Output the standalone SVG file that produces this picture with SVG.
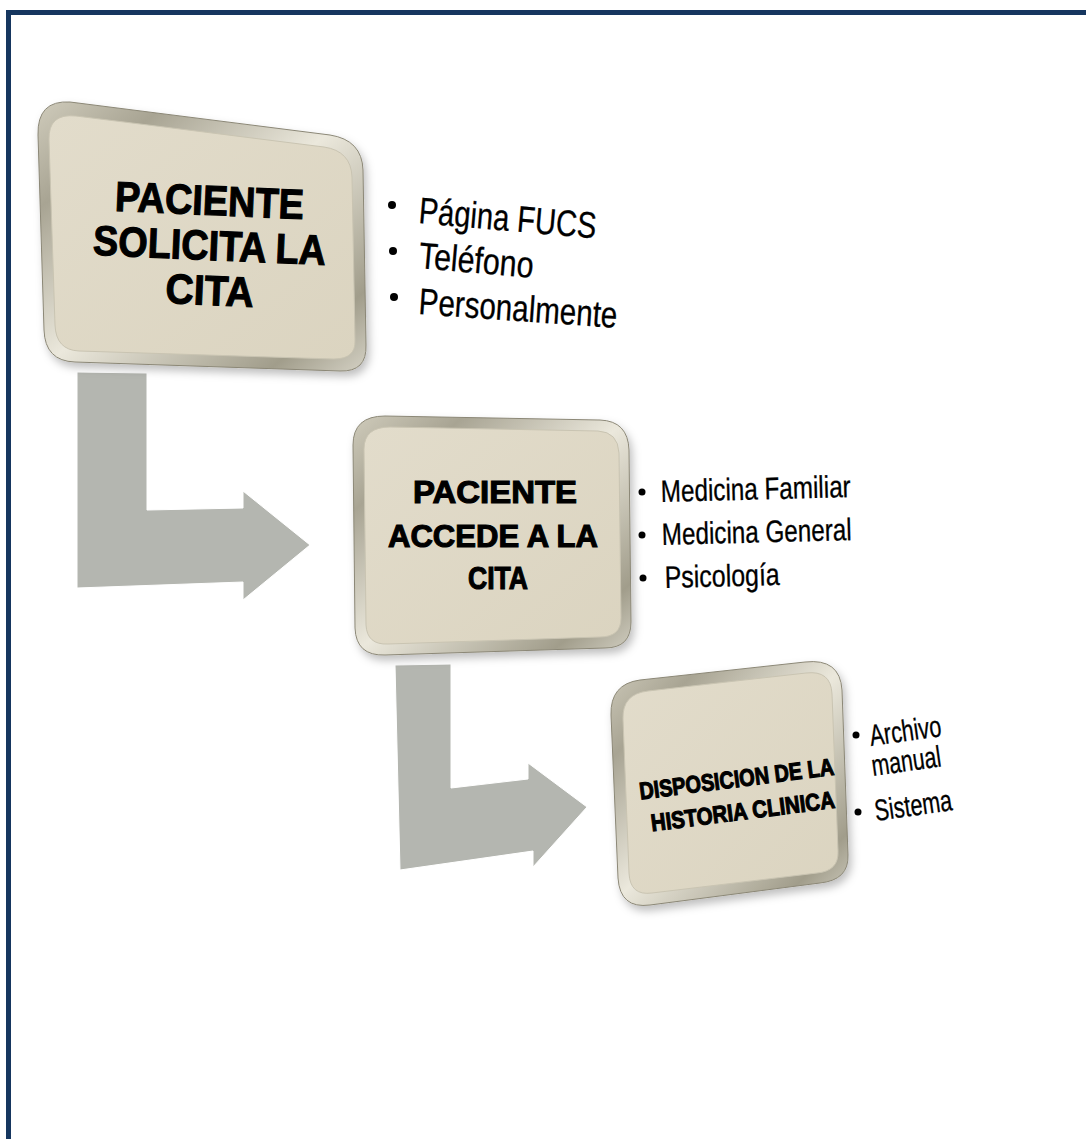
<svg xmlns="http://www.w3.org/2000/svg" width="1086" height="1139" viewBox="0 0 1086 1139">
<defs>
<linearGradient id="bevel" x1="0" y1="0" x2="1" y2="1">
<stop offset="0" stop-color="#cfcbbb"/>
<stop offset="0.2" stop-color="#a8a493"/>
<stop offset="0.5" stop-color="#ebe8dc"/>
<stop offset="0.85" stop-color="#a19d8b"/>
<stop offset="1" stop-color="#d4d1c4"/>
</linearGradient>
<linearGradient id="face" x1="0" y1="0" x2="1" y2="1">
<stop offset="0" stop-color="#e2dccb"/>
<stop offset="1" stop-color="#dbd4c0"/>
</linearGradient>
<filter id="sh" x="-10%" y="-10%" width="130%" height="130%">
<feDropShadow dx="3" dy="5" stdDeviation="4" flood-color="#000" flood-opacity="0.25"/>
</filter>
<style>
.frame{fill:none;stroke:#16365f;stroke-width:5}
.arrow{fill:#b4b6b0;stroke:#ffffff;stroke-width:1}
.outer{fill:url(#bevel);stroke:#8c8877;stroke-width:1;filter:url(#sh)}
.inner{fill:url(#face);stroke:#c9c4b2;stroke-width:1}
.title{font-family:"Liberation Sans",Arial,sans-serif;font-weight:bold;fill:#000;stroke:#000;stroke-width:1.1;text-anchor:middle}
.item{font-family:"Liberation Sans Narrow","Liberation Sans",Arial,sans-serif;fill:#000;stroke:#000;stroke-width:0.3}
</style>
</defs>
<rect width="1086" height="1139" fill="#ffffff"/>
<path class="frame" d="M8.5,1139 L8.5,12.5 L1086,12.5"/>

<g id="connectors">
<path class="arrow" d="M77,372 L147,373 L147,510 L243,508 L243,491 L310,545 L243,600 L243,582 L77,588 Z"/>
<path class="arrow" d="M395,665 L451,664 L451,788 L528,779 L528,763 L587,807 L533,867 L533,851 L400,870 Z"/>
</g>

<g id="node1">
<path class="outer" d="M70,102 L330,135 Q362,140 363,170 L366,345 Q367,372 340,371 L75,362 Q45,361 44,330 L38,135 Q37,100 70,102 Z"/>
<path class="inner" d="M76,116 L324,147 Q351,151 352,177 L355,340 Q356,359 334,359 L79,351 Q56,350 55,325 L49,140 Q48,113 76,116 Z"/>
<g transform="rotate(2.5 210 260)">
<text class="title" x="207" y="215" font-size="42" textLength="189" lengthAdjust="spacingAndGlyphs">PACIENTE</text>
<text class="title" x="209" y="260" font-size="42" textLength="233" lengthAdjust="spacingAndGlyphs">SOLICITA LA</text>
<text class="title" x="211" y="305" font-size="42" textLength="88" lengthAdjust="spacingAndGlyphs">CITA</text>
</g>
<circle cx="392" cy="205" r="4"/>
<circle cx="393" cy="251" r="4"/>
<circle cx="394" cy="297" r="4"/>
<text class="item" x="418" y="223" font-size="37" textLength="178" lengthAdjust="spacingAndGlyphs" transform="rotate(5 418 223)">Página FUCS</text>
<text class="item" x="418" y="268" font-size="37" textLength="115" lengthAdjust="spacingAndGlyphs" transform="rotate(5 418 268)">Teléfono</text>
<text class="item" x="418" y="314" font-size="37" textLength="199" lengthAdjust="spacingAndGlyphs" transform="rotate(4 418 314)">Personalmente</text>
</g>

<g id="node2">
<path class="outer" d="M385,416 L600,420 Q628,421 629,450 L631,622 Q631,648 605,648 L385,655 Q356,656 355,628 L353,445 Q353,416 385,416 Z"/>
<path class="inner" d="M390,427 L598,431 Q618,432 619,453 L621,618 Q621,637 600,637 L388,644 Q367,645 366,625 L364,449 Q364,427 390,427 Z"/>
<text class="title" x="495" y="503" font-size="31" textLength="164" lengthAdjust="spacingAndGlyphs">PACIENTE</text>
<text class="title" x="493" y="547" font-size="31" textLength="210" lengthAdjust="spacingAndGlyphs">ACCEDE A LA</text>
<text class="title" x="498" y="589" font-size="31" textLength="60" lengthAdjust="spacingAndGlyphs">CITA</text>
<circle cx="642" cy="492" r="3.5"/>
<circle cx="642" cy="535" r="3.5"/>
<circle cx="643" cy="578" r="3.5"/>
<text class="item" x="661" y="502" font-size="31" textLength="190" lengthAdjust="spacingAndGlyphs" transform="rotate(-1.5 661 502)">Medicina Familiar</text>
<text class="item" x="662" y="545" font-size="31" textLength="190" lengthAdjust="spacingAndGlyphs" transform="rotate(-1.5 662 545)">Medicina General</text>
<text class="item" x="665" y="588" font-size="31" textLength="115" lengthAdjust="spacingAndGlyphs" transform="rotate(-1.5 665 588)">Psicología</text>
</g>

<g id="node3">
<path class="outer" d="M640,680 L805,662 Q840,658 842,690 L848,855 Q849,880 820,883 L650,905 Q620,909 618,878 L611,715 Q610,684 640,680 Z"/>
<path class="inner" d="M648,691 L806,673 Q831,670 832,694 L838,851 Q839,871 817,873 L652,893 Q630,896 629,873 L623,719 Q622,694 648,691 Z"/>
<g transform="rotate(-7.3 738 790)">
<text class="title" x="738" y="787" font-size="24" stroke-width="0.7" textLength="196" lengthAdjust="spacingAndGlyphs">DISPOSICION DE LA</text>
<text class="title" x="740" y="820" font-size="24" stroke-width="0.7" textLength="185" lengthAdjust="spacingAndGlyphs">HISTORIA CLINICA</text>
</g>
<circle cx="856" cy="735" r="3.5"/>
<circle cx="858" cy="812" r="3.5"/>
<text class="item" x="871" y="746" font-size="30" textLength="72" lengthAdjust="spacingAndGlyphs" transform="rotate(-8 871 746)">Archivo</text>
<text class="item" x="873" y="776" font-size="30" textLength="70" lengthAdjust="spacingAndGlyphs" transform="rotate(-8 873 776)">manual</text>
<text class="item" x="876" y="821" font-size="30" textLength="78" lengthAdjust="spacingAndGlyphs" transform="rotate(-8 876 821)">Sistema</text>
</g>
</svg>
